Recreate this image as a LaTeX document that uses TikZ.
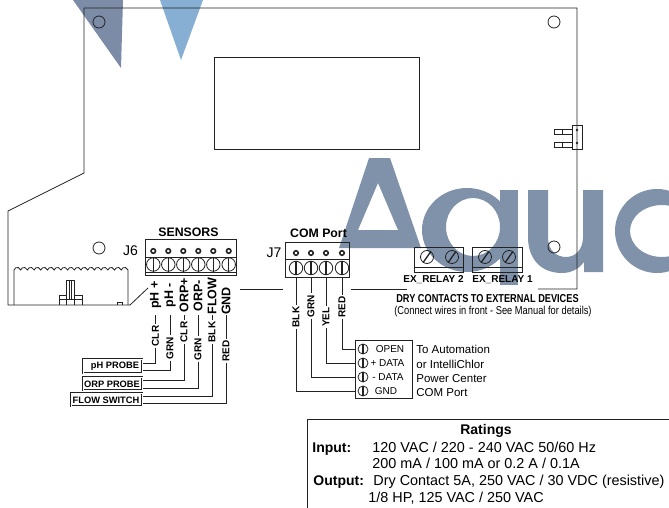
\documentclass[tikz,border=0pt]{standalone}
\usepackage{fontspec}
\setmainfont{Liberation Sans}
\newcommand{\fsz}[1]{\fontsize{#1}{#1}\selectfont}
\definecolor{markgray}{HTML}{7F92AA}
\definecolor{markdark}{HTML}{7C8CA7}
\definecolor{markblue}{HTML}{87AED3}
\definecolor{pcbline}{HTML}{222222}

\begin{document}
\begin{tikzpicture}[
  x=1pt,
  y=-1pt,
  every path/.style={line width=.8pt, pcbline},
  hole/.style={circle, draw, minimum size=12, inner sep=0},
  screw/.style={circle, draw, minimum size=13.5, inner sep=0},
  pin/.style={circle, draw, line width=1.6pt, fill=white, minimum size=4.5, inner sep=0},
  termscrew/.style={circle, draw, minimum size=10, inner sep=0},
  body/.style={draw, inner sep=0},
  title/.style={inner sep=0, black, font=\fsz{12.3}\bfseries},
  sense/.style={rotate=90, inner sep=0, black, font=\fsz{12.5}\bfseries},
  wirelab/.style={rotate=90, inner sep=1, black, font=\fsz{10}\bfseries},
  probe/.style={draw, double, double distance=.7pt, line width=.6pt, inner sep=0},
  probelab/.style={inner sep=0, black, font=\fsz{9.3}\bfseries},
  small/.style={inner sep=0, anchor=west, black, font=\fsz{11.5}},
  rate/.style={inner sep=0, anchor=base west, black, font=\fsz{14.4}}
]
  \useasboundingbox (0,0) rectangle (669,508);

  % watermark
  \fill[markdark] (73,0) -- (123,0) -- (121,68) -- cycle;
  \fill[markblue] (160,0) -- (203,0) -- (181,60) -- cycle;
  \fill[markgray, even odd rule] (369,158) -- (390,158) -- (421,248) -- (339,248) -- cycle
    (378,183) -- (398,230) -- (358,230) -- cycle;
  \fill[markgray, even odd rule] (467,230) ellipse [x radius=45, y radius=42]
    (473,227) ellipse [x radius=27, y radius=29];
  \fill[markgray] (500,190) rectangle (518,285);
  \fill[markgray] (528,190) -- (548,190) -- (548,237) .. controls (548,252) and (558,257) .. (566,257)
    .. controls (575,257) and (583,250) .. (583,237) -- (583,190) -- (603,190) -- (603,272) -- (584,272)
    -- (584,262) .. controls (578,270) and (570,273) .. (562,273) .. controls (540,273) and (528,258) .. (528,237) -- cycle;
  \fill[markgray, even odd rule] (657,231) ellipse [x radius=42, y radius=42]
    (662,231) ellipse [x radius=32, y radius=26];

  % board
  \draw (283,289) -- (240,289);
  \draw (351,289) -- (407,289);
  \draw (538,289) -- (577,289) -- (577,8) -- (84,8) -- (84,173) -- (8,211) -- (8,305) -- (130,305) -- (148,288);
  \draw (214,57) rectangle (419,149);
  \foreach \x/\y [count=\i] in {99/22, 554/22, 554/247, 99/248}
    \node[hole] (hole\i) at (\x,\y) {};

  % module on the left edge
  \draw (14,305) -- (14,270) foreach \i in {1,...,17} {arc [start angle=195, end angle=345, radius=3.47]} -- (128,305);
  \draw (66,305) -- (66,280) -- (74,280) -- (74,305) (69,280) -- (69,300) (71,280) -- (71,300);
  \draw (59,305) -- (59,295) -- (66,295) (74,295) -- (82,295) -- (82,305) (59,299) -- (82,299);
  \draw (117,305) -- (117,302) -- (122,302) -- (122,305);

  % side connector
  \node[body, minimum width=10, minimum height=24] (side) at (577,137) {};
  \foreach \y [count=\i] in {130,143} {
    \fill (side.center |- 0,\y) circle [radius=1.4];
    \draw (side.west |- 0,\y-1) -- (554,\y-1) -- (554,\y+4) -- (side.west |- 0,\y+4);
    \draw (562,\y-1) -- (562,\y+4);
  }

  % J6
  \node[title] (sensors) at (188.5,232) {SENSORS};
  \node[inner sep=0, black, font=\fsz{14}] (j6lab) at (130.5,251) {J6};
  \node[body, minimum width=91, minimum height=36] (j6) at (191,257.5) {};
  \draw (j6.west |- 0,257) -- (j6.east |- 0,257);
  \draw (j6.west |- 0,272) -- (j6.east |- 0,272);
  \foreach \x [count=\i] in {153.3,168.3,183.3,198.3,213.3,228.7} {
    \node[pin] (j6p\i) at (\x,251) {};
    \node[screw] (j6s\i) at (\x,264.5) {};
    \draw[line width=1.1pt] (j6s\i.north) -- (j6s\i.south);
  }
  \foreach \x/\txt/\y/\wire/\wy/\by [count=\i] in {
    155.5/pH +/295/CLR/336/363,
    170/pH -/295/GRN/348/370,
    184/ORP+/295/CLR/332/380,
    198/ORP-/296/GRN/349/388,
    212/FLOW/296/BLK/332/396,
    226/GND/301/RED/351/403} {
    \node[sense] (sen\i) at (\x,\y) {\txt};
    \coordinate (top\i) at (\x,315);
    \node[wirelab] (wire\i) at (\x,\wy) {\wire};
    \coordinate (end\i) at (142,\by);
    \draw (top\i) -- (wire\i);
    \draw (wire\i) |- (end\i);
  }
  \node[probe, minimum width=59, minimum height=14] (phbox) at (112.5,366) {};
  \node[probe, minimum width=59, minimum height=13] (orpbox) at (112.5,383.5) {};
  \node[probe, minimum width=71, minimum height=13] (flowbox) at (106.5,399.5) {};
  \node[probelab] (phlab) at (115,366.5) {pH PROBE};
  \node[probelab] (orplab) at (112,384) {ORP PROBE};
  \node[probelab] (flowlab) at (106,400) {FLOW SWITCH};

  % J7
  \node[title] (comport) at (318.5,233) {COM Port};
  \node[inner sep=0, black, font=\fsz{14}] (j7lab) at (274,253) {J7};
  \node[body, minimum width=64, minimum height=35] (j7) at (317,259.5) {};
  \draw (j7.west |- 0,259) -- (j7.east |- 0,259);
  \node[body, minimum width=57, minimum height=58] (term) at (383.5,369) {};
  \foreach \x/\y/\wire/\wy/\txt/\tx [count=\i] in {
    342/349/RED/307/OPEN/390,
    326/363/YEL/317/+ DATA/387.5,
    311/377/GRN/306/- DATA/388,
    296/391/BLK/317/GND/386} {
    \node[pin] (j7p\i) at (\x,253) {};
    \node[screw] (j7s\i) at (\x,268) {};
    \draw[line width=1.1pt] (j7s\i.north) -- (j7s\i.south);
    \node[termscrew] (ts\i) at (363,\y) {};
    \draw[line width=1.1pt] (ts\i.north) -- (ts\i.south);
    \node[inner sep=0, black, font=\fsz{10}] (tlab\i) at (\tx,\y) {\txt};
    \node[wirelab] (jw\i) at (\x,\wy) {\wire};
    \draw (j7.south -| jw\i) -- (jw\i);
    \draw (jw\i) |- (term.west |- ts\i);
  }
  \foreach \y/\txt [count=\i] in {349/To Automation, 364/or IntelliChlor, 378.5/Power Center, 393/COM Port}
    \node[small] (note\i) at (416,\y) {\txt};

  % relays
  \node[body, minimum width=49, minimum height=25] (relb) at (438.5,259.5) {};
  \node[body, minimum width=50, minimum height=25] (rela) at (497,259.5) {};
  \draw (relb.west |- 0,267) -- (relb.east |- 0,267);
  \draw (rela.west |- 0,267) -- (rela.east |- 0,267);
  \foreach \x [count=\i] in {427,452,485,509} {
    \node[screw, minimum size=13] (rs\i) at (\x,257) {};
    \draw[line width=1.3pt] (rs\i.55) -- (rs\i.235);
  }
  \node[inner sep=0, black, font=\fsz{10}\bfseries] (relblab) at (433.5,280) {EX\_RELAY 2};
  \node[inner sep=0, black, font=\fsz{10}\bfseries] (relalab) at (502.5,280) {EX\_RELAY 1};
  \node[inner sep=0, black, xscale=.8, font=\fsz{11.5}\bfseries] (drylab) at (487.5,299) {DRY CONTACTS TO EXTERNAL DEVICES};
  \node[inner sep=0, black, xscale=.81, font=\fsz{11.5}] (seelab) at (493,312) {(Connect wires in front - See Manual for details)};

  % ratings
  \draw (307,508) -- (307,419) -- (669,419);
  \node[title, font=\fsz{14}\bfseries] (ratings) at (486,431) {Ratings};
  \node[rate, font=\fsz{14}\bfseries] (input) at (312,452) {Input:};
  \node[rate] (inA) at (372,452) {120 VAC / 220 - 240 VAC 50/60 Hz};
  \node[rate] (inB) at (372,468) {200 mA / 100 mA or 0.2 A / 0.1A};
  \node[rate, font=\fsz{14}\bfseries] (output) at (313,485) {Output:};
  \node[rate] (outA) at (373,485) {Dry Contact 5A, 250 VAC / 30 VDC (resistive)};
  \node[rate] (outB) at (368,502) {1/8 HP, 125 VAC / 250 VAC};
\end{tikzpicture}
\end{document}
